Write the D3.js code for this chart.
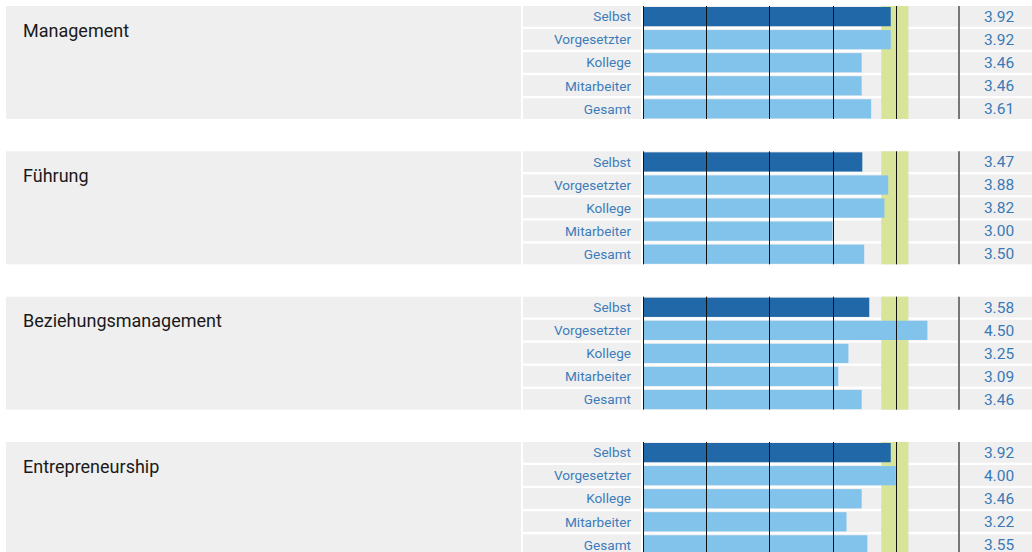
<!DOCTYPE html>
<html><head><meta charset="utf-8">
<script src="https://cdn.jsdelivr.net/npm/d3@7"></script>
<style>html,body{margin:0;padding:0;background:#fff;}svg{display:block;}</style>
</head><body>
<script>
const categories = ["Management", "Führung", "Beziehungsmanagement", "Entrepreneurship"];
const raters = ["Selbst", "Vorgesetzter", "Kollege", "Mitarbeiter", "Gesamt"];
const management = [3.92, 3.92, 3.46, 3.46, 3.61];
const fuehrung = [3.47, 3.88, 3.82, 3.00, 3.50];
const beziehung = [3.58, 4.50, 3.25, 3.09, 3.46];
const entrepreneurship = [3.92, 4.00, 3.46, 3.22, 3.55];
const targetBand = [3.77, 4.2];
const gridTicks = [0, 1, 2, 3, 4];
const scaleMax = 5;

const series = [management, fuehrung, beziehung, entrepreneurship];
const W = 1032, H = 552;
const svg = d3.select("body").append("svg").attr("width", W).attr("height", H);

const panelY = d3.scaleBand().domain(categories).range([6, 555]).paddingInner(0.2225);
const rowY = d3.scaleBand().domain(raters).range([0, panelY.bandwidth()]).paddingInner(0.1);
const x = d3.scaleLinear().domain([0, scaleMax]).range([643, 959]);

const bg = "#efefef";
categories.forEach((cat, ci) => {
  const g = svg.append("g").attr("transform", `translate(0,${panelY(cat)})`);
  const ph = panelY.bandwidth();
  g.append("rect").attr("x", 6).attr("y", 0).attr("width", 515).attr("height", ph).attr("fill", bg);
  g.append("text").attr("x", 23).attr("y", 30.5).text(cat)
    .attr("font-family", "Roboto, sans-serif").attr("font-size", 18).attr("fill", "#1a1a1a");
  const vals = series[ci];
  raters.forEach((r, ri) => {
    const y = rowY(r), bh = rowY.bandwidth();
    g.append("rect").attr("x", 523).attr("y", y).attr("width", 118).attr("height", bh).attr("fill", bg);
    g.append("rect").attr("x", 643).attr("y", y).attr("width", W - 643).attr("height", bh).attr("fill", bg);
    g.append("text").attr("x", 631).attr("y", y + bh / 2 + 5).attr("text-anchor", "end")
      .text(r).attr("font-family", "Roboto, sans-serif").attr("font-size", 13.6).attr("fill", "#3d7cba");
    g.append("text").attr("x", 999).attr("y", y + bh / 2 + 5.5).attr("text-anchor", "middle")
      .text(d3.format(".2f")(vals[ri])).attr("font-family", "Roboto, sans-serif").attr("font-size", 15.5).attr("fill", "#3a79b7");
  });
  // target band
  g.append("rect").attr("x", x(targetBand[0])).attr("y", 0)
    .attr("width", x(targetBand[1]) - x(targetBand[0])).attr("height", ph).attr("fill", "#d9e49b");
  // bars
  raters.forEach((r, ri) => {
    const y = rowY(r), bh = rowY.bandwidth();
    g.append("rect").attr("x", x(0)).attr("y", y + 1).attr("width", x(vals[ri]) - x(0)).attr("height", bh - 1.5)
      .attr("fill", ri === 0 ? "#2068a8" : "#82c3ec");
  });
  // grid lines
  gridTicks.forEach(t => {
    g.append("line").attr("x1", Math.round(x(t)) + 0.5).attr("x2", Math.round(x(t)) + 0.5)
      .attr("y1", 0).attr("y2", ph).attr("stroke", "#111").attr("stroke-width", 1);
  });
  g.append("line").attr("x1", x(scaleMax)).attr("x2", x(scaleMax)).attr("y1", 0).attr("y2", ph)
    .attr("stroke", "#777").attr("stroke-width", 2);
});
</script>
</body></html>
